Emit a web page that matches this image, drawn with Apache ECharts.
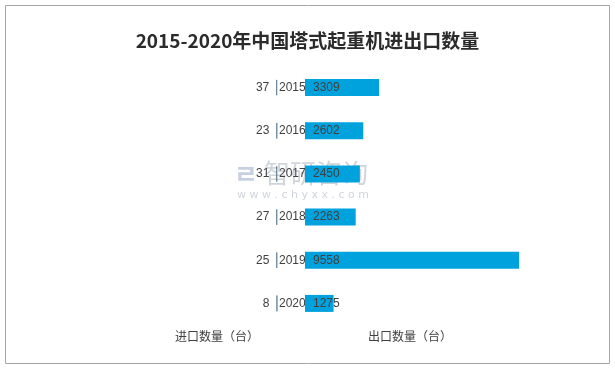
<!DOCTYPE html>
<html><head><meta charset="utf-8">
<script src="https://cdn.jsdelivr.net/npm/echarts@6/dist/echarts.min.js"></script>
<style>html,body{margin:0;padding:0;background:#fff}#c{width:615px;height:369px}</style>
</head><body><div id="c"></div>
<script>
const years = ['2015','2016','2017','2018','2019','2020'];
const importQty = [37, 23, 31, 27, 25, 8];
const exportQty = [3309, 2602, 2450, 2263, 9558, 1275];
const titleText = '2015-2020年中国塔式起重机进出口数量';
const importName = '进口数量（台）';
const exportName = '出口数量（台）';

const chart = echarts.init(document.getElementById('c'));
const txt = '#404040';
chart.setOption({
  backgroundColor: '#fff',
  animation: false,
  title: {
    text: titleText, left: 'center', top: 26,
    textStyle: {fontFamily: 'Noto Sans CJK SC', fontWeight: 'bold', fontSize: 19, color: '#2b2b2b'}
  },
  grid: [
    {left: 100, right: 338, top: 66, height: 259},
    {left: 305, right: 86, top: 66, height: 259}
  ],
  xAxis: [
    {gridIndex: 0, type: 'value', inverse: true, min: 0, max: 10000, show: false},
    {gridIndex: 1, type: 'value', min: 0, max: 10000, show: false}
  ],
  yAxis: [
    {gridIndex: 0, type: 'category', data: years, inverse: true, position: 'right',
     axisLine: {show: false},
     axisTick: {show: false},
     axisLabel: {show: true, margin: 2, color: txt, fontFamily: 'Liberation Sans', fontSize: 12, align: 'left'}},
    {gridIndex: 1, type: 'category', data: years, inverse: true, show: false}
  ],
  series: [
    {type: 'bar', xAxisIndex: 0, yAxisIndex: 0, data: importQty, barWidth: 16,
     itemStyle: {color: '#5a7890', borderColor: '#5a7890', borderWidth: 0.8},
     label: {show: true, position: 'left', distance: 7, color: txt, fontFamily: 'Liberation Sans', fontSize: 12}},
    {type: 'bar', xAxisIndex: 1, yAxisIndex: 1, data: exportQty, barWidth: 17,
     itemStyle: {color: '#00a2de'},
     label: {show: true, position: 'insideLeft', distance: 8, color: txt, fontFamily: 'Liberation Sans', fontSize: 12}}
  ],
  graphic: [
    {type: 'rect', shape: {x: 5.5, y: 5.5, width: 604, height: 358}, style: {fill: 'none', stroke: '#a6a6a6', lineWidth: 1}, z: -10},
    {type: 'text', left: 175, top: 330, style: {text: importName, fill: txt, font: '12px "Noto Sans CJK SC"'}},
    {type: 'text', left: 368, top: 330, style: {text: exportName, fill: txt, font: '12px "Noto Sans CJK SC"'}},
    {type: 'text', left: 264, top: 160, z: -1, style: {text: '智研咨询', fill: 'rgba(150,160,175,0.45)', font: '26px "Noto Sans CJK SC"'}},
    {type: 'text', left: 237, top: 190, z: -1, style: {text: 'w w w . c h y x x . c o m', fill: 'rgba(150,160,175,0.45)', font: '11px "DejaVu Sans"'}},
    {type: 'text', left: 234, top: 161, z: -1, style: {text: 'ㄹ', fill: 'rgba(130,150,190,0.45)', font: 'bold 26px "Noto Sans CJK KR"'}}
  ]
});
</script></body></html>
